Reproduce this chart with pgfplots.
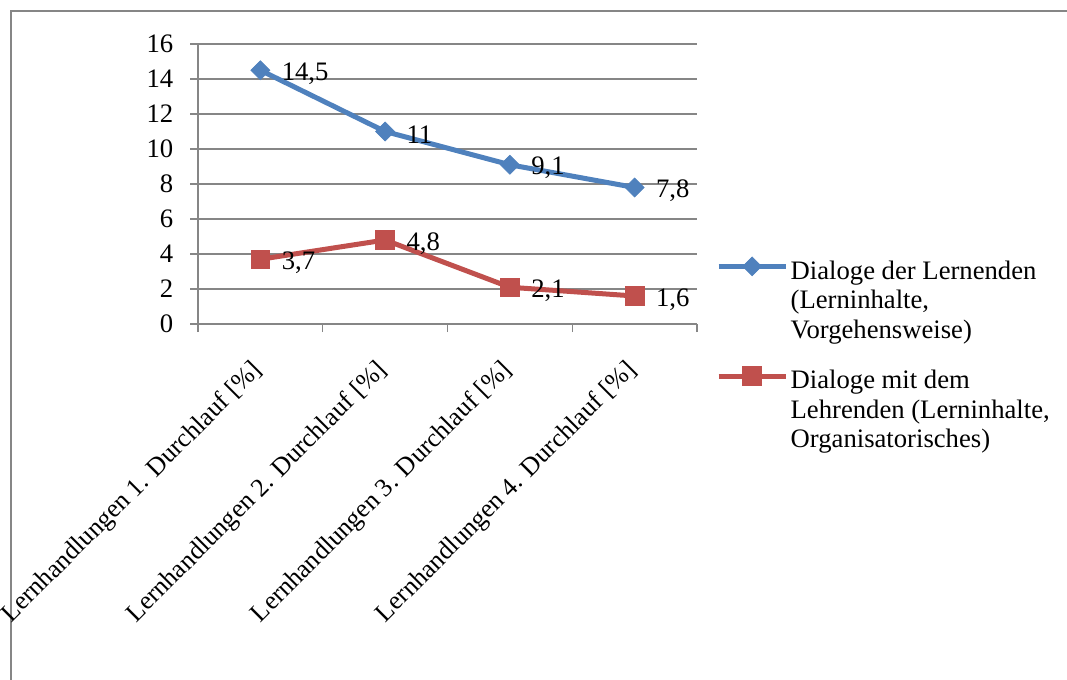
\documentclass[border=0pt]{standalone}
\usepackage{pgfplots}
\pgfplotsset{compat=1.18}
\usepackage{fontspec}
\setmainfont{Liberation Serif}
\definecolor{serieA}{HTML}{4F81BD}
\definecolor{serieB}{HTML}{C0504D}
\definecolor{raster}{HTML}{868686}
\begin{document}
\begin{tikzpicture}[font=\fontsize{20}{22.1}\selectfont]
\useasboundingbox (0,0) rectangle (800.25pt,509.25pt);
% outer frame of the chart area
\draw[raster, line width=1.1pt] (8.25pt,-5pt) -- (8.25pt,501pt) -- (806pt,501pt);
\begin{axis}[
  at={(148.5pt,266.25pt)}, anchor=south west,
  scale only axis, width=374.25pt, height=210pt,
  xmin=-0.5, xmax=3.5, ymin=0, ymax=16,
  ytick={0,2,...,16},
  xtick={-0.5,0.5,1.5,2.5,3.5},
  x tick label as interval,
  xticklabels={Lernhandlungen 1. Durchlauf [\%],
               Lernhandlungen 2. Durchlauf [\%],
               Lernhandlungen 3. Durchlauf [\%],
               Lernhandlungen 4. Durchlauf [\%]},
  x tick label style={rotate=45, anchor=north east, xshift=-16pt, yshift=-5pt,
    font=\fontsize{19.5}{22}\selectfont},
  y tick label style={xshift=-9pt},
  tick align=outside,
  major tick length=6pt,
  tick style={raster, line width=1.1pt},
  axis x line*=bottom, axis y line*=left,
  axis line style={raster, line width=1.1pt, -},
  ymajorgrids,
  grid style={raster, line width=1.1pt},
  /pgf/number format/assume math mode=true,
  /pgf/number format/use comma,
  nodes near coords,
  every node near coord/.append style={anchor=west, xshift=12.5pt, yshift=-2.5pt, text=black},
  legend style={draw=none, fill=none, at={(1.03,0.25)}, anchor=north west,
    cells={align=left, anchor=north west}, row sep=18pt},
  % line with the mark in its middle, lowered to sit beside the first text line
  legend image code/.code={%
    \draw[yshift=-6.5pt,mark repeat=2,mark phase=2,#1] plot coordinates {(0cm,0cm) (0.88cm,0cm) (1.76cm,0cm)};},
  clip=false,
]
\addplot[serieA, line width=3.75pt, mark=square*, mark size=5pt,
  mark options={rotate=45, solid, line width=0.5pt, fill=serieA}]
  coordinates {(0,14.5) (1,11) (2,9.1) (3,7.8)};
\addlegendentry{Dialoge der Lernenden\\(Lerninhalte,\\Vorgehensweise)}
\addplot[serieB, line width=3.75pt, mark=square*, mark size=7pt,
  mark options={solid, line width=0.5pt, fill=serieB}]
  coordinates {(0,3.7) (1,4.8) (2,2.1) (3,1.6)};
\addlegendentry{Dialoge mit dem\\Lehrenden (Lerninhalte,\\Organisatorisches)}
\end{axis}
\end{tikzpicture}
\end{document}
